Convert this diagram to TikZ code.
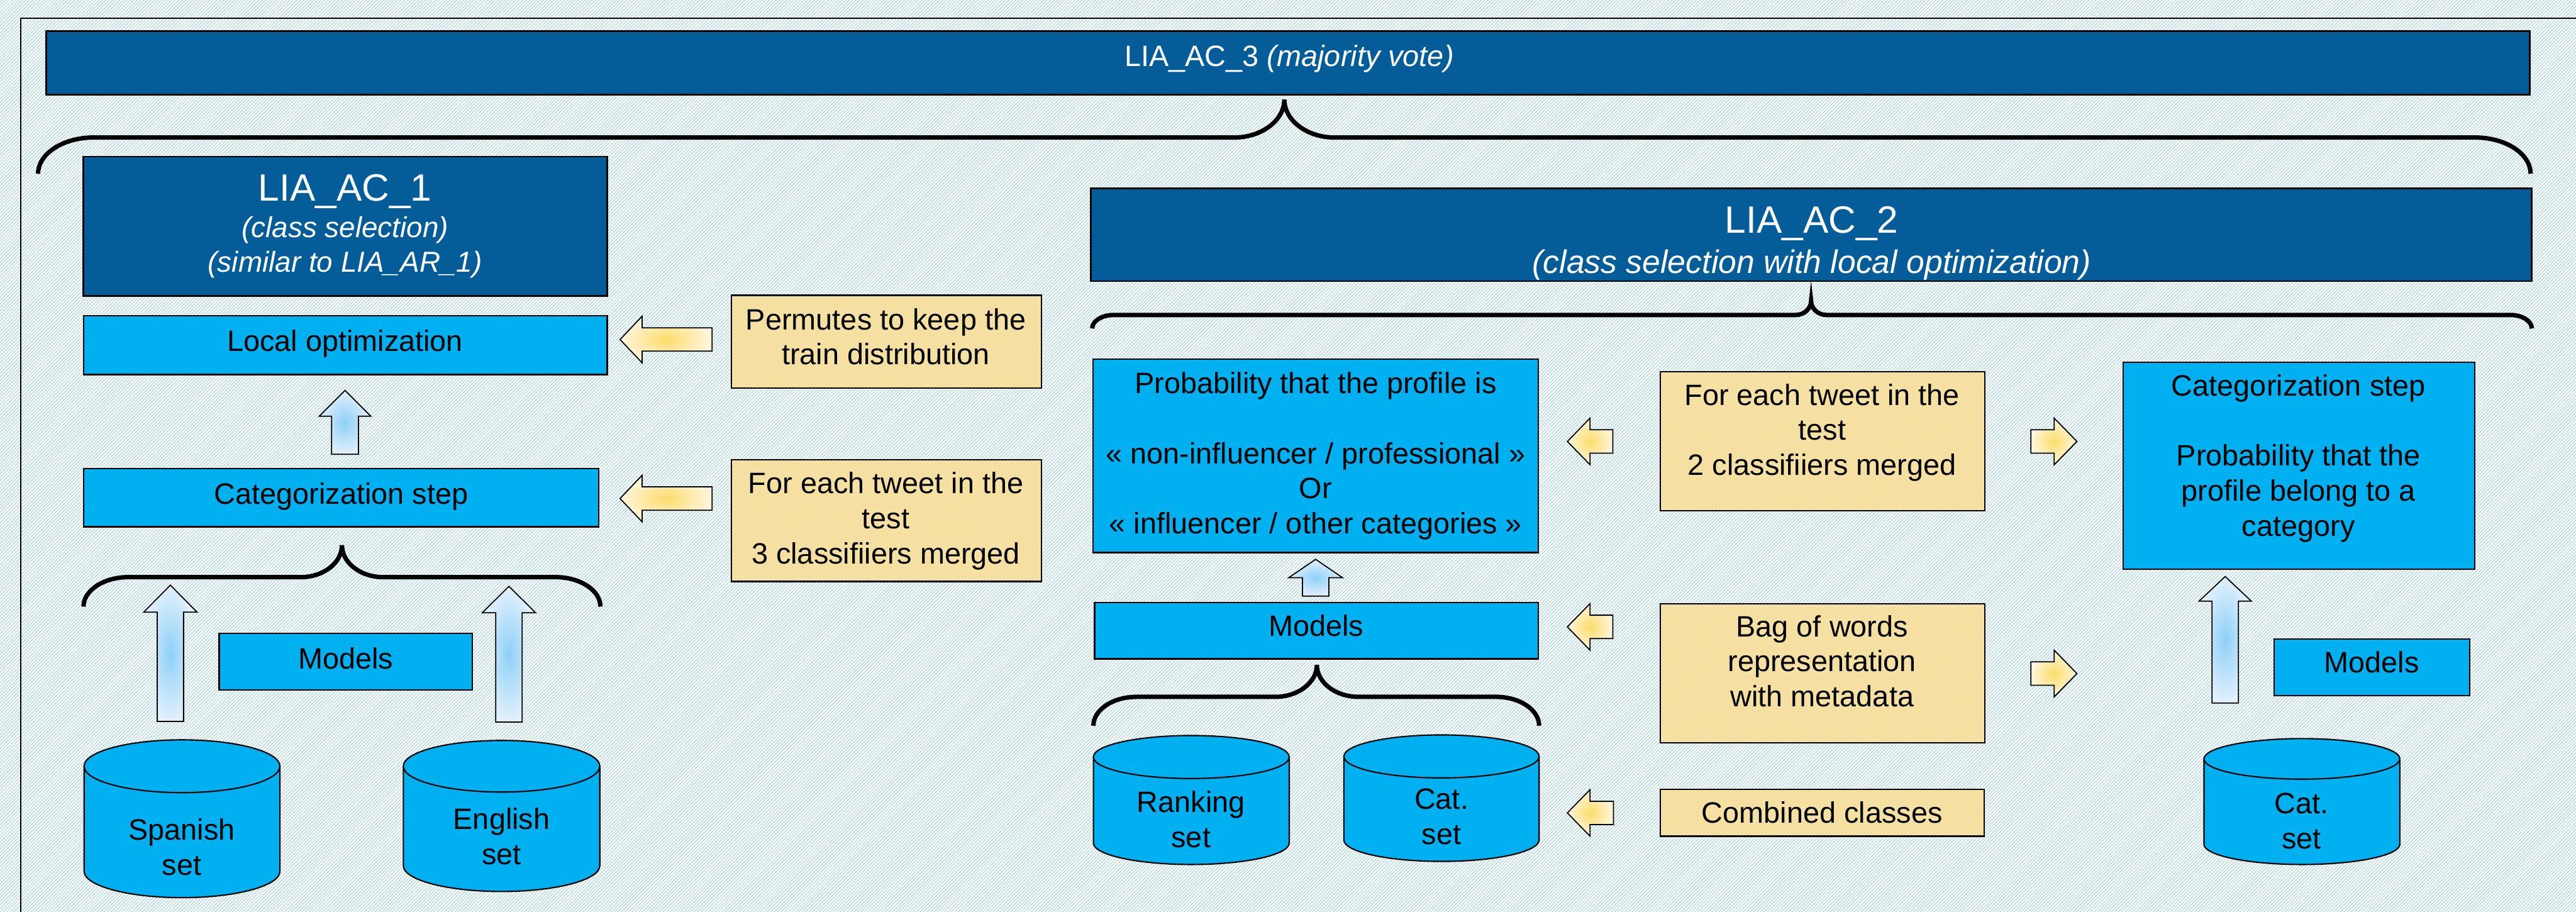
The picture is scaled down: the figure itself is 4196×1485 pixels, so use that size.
\documentclass[tikz,border=0pt]{standalone}
\usepackage{fontspec}
\setmainfont{Liberation Sans}
\usetikzlibrary{patterns.meta}

\definecolor{darkblue}{HTML}{045D99}
\definecolor{lightblue}{HTML}{00B0F0}
\definecolor{noteyellow}{HTML}{F9DE96}
\definecolor{hatch}{HTML}{A9D5D9}
\definecolor{glowyellow}{HTML}{FCDC6A}
\definecolor{paleyellow}{HTML}{FFF6DE}
\definecolor{glowblue}{HTML}{8ED0F7}
\definecolor{paleblue}{HTML}{E2F0FC}

% multi-line text whose reference point is the baseline of its first line
\newcommand\linesof[1]{\begin{tabular}[t]{@{}c@{}}#1\end{tabular}}

% rectangle node given by its corners (in px)
\newcommand\boxnode[6]{%
  \node[#1, minimum width={(#5-#3)*0.25pt}, minimum height={(#6-#4)*0.25pt},
        inner sep=0pt, outer sep=0pt] (#2) at ({(#3+#5)/2},{(#4+#6)/2}) {};}

% database cylinder: x1, x2, top, bottom, half height of the ellipse
\newcommand\cylinder[5]{%
  \filldraw[cylstyle] (#1,{#3+#5}) -- (#1,{#4-#5})
    .. controls (#1,{#4-#5+0.5523*#5}) and ({(#1+#2)/2-0.5523*(#2-#1)/2},#4) .. ({(#1+#2)/2},#4)
    .. controls ({(#1+#2)/2+0.5523*(#2-#1)/2},#4) and (#2,{#4-#5+0.5523*#5}) .. (#2,{#4-#5})
    -- (#2,{#3+#5})
    .. controls (#2,{#3+#5-0.5523*#5}) and ({(#1+#2)/2+0.5523*(#2-#1)/2},#3) .. ({(#1+#2)/2},#3)
    .. controls ({(#1+#2)/2-0.5523*(#2-#1)/2},#3) and (#1,{#3+#5-0.5523*#5}) .. (#1,{#3+#5}) -- cycle;
  \draw[cylstyle] (#1,{#3+#5})
    .. controls (#1,{#3+#5+0.5523*#5}) and ({(#1+#2)/2-0.5523*(#2-#1)/2},{#3+2*#5}) .. ({(#1+#2)/2},{#3+2*#5})
    .. controls ({(#1+#2)/2+0.5523*(#2-#1)/2},{#3+2*#5}) and (#2,{#3+#5+0.5523*#5}) .. (#2,{#3+#5});}

% upward block arrow: centre x, tip y, head base y, bottom y, head half width, shaft half width
\newcommand\uparrowblk[6]{%
  \shadedraw[bluearrow] (#1,#2) -- ({#1+#5},#3) -- ({#1+#6},#3) -- ({#1+#6},#4)
    -- ({#1-#6},#4) -- ({#1-#6},#3) -- ({#1-#5},#3) -- cycle;}

% horizontal block arrow: centre y, tip x, head base x, tail x, head half height, shaft half height
\newcommand\sidearrowblk[6]{%
  \shadedraw[yellowarrow] (#2,#1) -- (#3,{#1-#5}) -- (#3,{#1-#6}) -- (#4,{#1-#6})
    -- (#4,{#1+#6}) -- (#3,{#1+#6}) -- (#3,{#1+#5}) -- cycle;}

% curly brace opening downwards: x1, x2, end y, bar y, tip x, tip y, corner width, tip half width
\newcommand\curlybrace[8]{%
  \draw[bracestroke] (#1,#3) .. controls (#1,{#4+(#3-#4)*0.45}) and ({#1+#7*0.45},#4) .. ({#1+#7},#4)
    -- ({#5-#8},#4) .. controls ({#5-#8*0.45},#4) and (#5,{#4-(#4-#6)*0.45}) .. (#5,#6)
    .. controls (#5,{#4-(#4-#6)*0.45}) and ({#5+#8*0.45},#4) .. ({#5+#8},#4)
    -- ({#2-#7},#4) .. controls ({#2-#7*0.45},#4) and (#2,{#4+(#3-#4)*0.45}) .. (#2,#3);}

\tikzset{
  darkbox/.style={draw=black, line width=0.7pt, fill=darkblue},
  lightbox/.style={draw=black, line width=0.55pt, fill=lightblue},
  notebox/.style={draw=black, line width=0.55pt, fill=noteyellow, fill opacity=0.86, draw opacity=1},
  cylstyle/.style={draw=black, line width=0.55pt, fill=lightblue},
  bluearrow/.style={draw=black, line width=0.45pt, inner color=glowblue, outer color=paleblue},
  yellowarrow/.style={draw=black, line width=0.45pt, inner color=glowyellow, outer color=paleyellow},
  bracestroke/.style={draw=black, line width=1.8pt},
  txt/.style={inner sep=0pt, outer sep=0pt, anchor=base, font=\fontsize{12}{14.25}\selectfont},
  whitetxt/.style={txt, text=white},
}

\begin{document}
\begin{tikzpicture}[x=0.25pt, y=-0.25pt]
\useasboundingbox (0,0) rectangle (4196,1485);

% hatched background and frame
\fill[white] (0,0) rectangle (4196,1485);
\fill[pattern={Lines[angle=45,distance=1pt,line width=0.3pt]}, pattern color=hatch]
  (0,0) rectangle (4196,1485);
\draw[line width=0.5pt] (34,1495) -- (34,30) -- (4205,30);

% ---------------- LIA_AC_3 ----------------
\boxnode{darkbox}{ac3}{75}{51}{4121}{154}
\node[whitetxt] (ac3-t) at (2100,108) {LIA\_AC\_3 \textit{(majority vote)}};
\curlybrace{62}{4122}{283}{224}{2092}{162}{90}{82}

% ---------------- LIA_AC_1 ----------------
\boxnode{darkbox}{ac1}{136}{255}{989}{482}
\node[whitetxt, font=\fontsize{15.5}{18}\selectfont] (ac1-t) at (562,327) {LIA\_AC\_1};
\node[whitetxt, font=\fontsize{11.75}{14}\selectfont\itshape] (ac1-s) at (562,387)
  {\linesof{(class selection)\\(similar to LIA\_AR\_1)}};

\boxnode{lightbox}{localopt}{136}{514}{989}{610}
\node[txt] (localopt-t) at (562,572) {Local optimization};

\boxnode{lightbox}{catstepL}{136}{763}{975}{858}
\node[txt] (catstepL-t) at (556,821) {Categorization step};

\uparrowblk{562}{636}{678}{740}{42}{22}

\boxnode{notebox}{permutes}{1191}{481}{1696}{632}
\node[txt] (permutes-t) at (1443,537) {\linesof{Permutes to keep the\\train distribution}};
\sidearrowblk{553}{1010}{1046}{1160}{38}{19}

\boxnode{notebox}{foreachL}{1191}{749}{1696}{947}
\node[txt] (foreachL-t) at (1443,804) {\linesof{For each tweet in the\\test\\3 classifiiers merged}};
\sidearrowblk{812}{1010}{1046}{1160}{38}{19}

\curlybrace{136}{978}{988}{940}{557}{888}{73}{67}
\uparrowblk{277.5}{953}{997}{1175}{43.5}{21.5}
\uparrowblk{829}{955}{998}{1176}{43.5}{21.5}

\boxnode{lightbox}{modelsL}{357}{1032}{769}{1124}
\node[txt] (modelsL-t) at (563,1089) {Models};

\cylinder{137}{456}{1205}{1462}{43}
\node[txt] (spanish-t) at (296,1368) {\linesof{Spanish\\set}};
\cylinder{657}{977}{1206}{1452}{42}
\node[txt] (english-t) at (817,1351) {\linesof{English\\set}};

% ---------------- LIA_AC_2 ----------------
\boxnode{darkbox}{ac2}{1777}{307}{4124}{458}
\node[whitetxt, font=\fontsize{15.5}{18}\selectfont] (ac2-t) at (2951,380) {LIA\_AC\_2};
\node[whitetxt, font=\fontsize{13.25}{16}\selectfont\itshape] (ac2-s) at (2951,445)
  {(class selection with local optimization)};
\curlybrace{1779}{4124}{535}{513}{2950}{490}{35}{25}

\boxnode{lightbox}{prob}{1780}{585}{2506}{900}
\node[txt] (prob-t) at (2143,641) {\linesof{Probability that the profile is\\ \\« non-influencer / professional »\\Or\\« influencer / other categories »}};

\uparrowblk{2143}{911}{941}{971}{44}{21.5}

\boxnode{lightbox}{modelsM}{1783}{981}{2506}{1073}
\node[txt] (modelsM-t) at (2144,1036) {Models};

\curlybrace{1781}{2507}{1182}{1135}{2145}{1083}{70}{68}
\cylinder{1781}{2100}{1198}{1408}{35}
\node[txt] (ranking-t) at (1940,1323) {\linesof{Ranking\\set}};
\cylinder{2189}{2507}{1197}{1403}{35}
\node[txt] (catM-t) at (2348,1318) {\linesof{Cat.\\set}};

\boxnode{notebox}{foreachM}{2704}{605}{3233}{832}
\node[txt] (foreachM-t) at (2968,660) {\linesof{For each tweet in the\\test\\2 classifiiers merged}};
\boxnode{notebox}{bow}{2704}{983}{3233}{1210}
\node[txt] (bow-t) at (2968,1037) {\linesof{Bag of words\\representation\\with metadata}};
\boxnode{notebox}{combined}{2704}{1286}{3232}{1362}
\node[txt] (combined-t) at (2968,1340) {Combined classes};

\sidearrowblk{719}{2553}{2590}{2627}{38}{19}
\sidearrowblk{1021}{2553}{2590}{2627}{38}{19}
\sidearrowblk{1324}{2553}{2590}{2628}{38}{19}
\sidearrowblk{719}{3383}{3346}{3308}{38}{19}
\sidearrowblk{1097}{3383}{3346}{3308}{38}{19}

\boxnode{lightbox}{catstepR}{3458}{590}{4031}{927}
\node[txt] (catstepR-t) at (3744,645) {\linesof{Categorization step\\ \\Probability that the\\profile belong to a\\category}};

\uparrowblk{3624.5}{939}{979}{1145}{42.5}{21.5}
\boxnode{lightbox}{modelsR}{3704}{1041}{4023}{1133}
\node[txt] (modelsR-t) at (3863,1096) {Models};

\cylinder{3590}{3909}{1203}{1408}{33}
\node[txt] (catR-t) at (3749,1325) {\linesof{Cat.\\set}};
\end{tikzpicture}
\end{document}
